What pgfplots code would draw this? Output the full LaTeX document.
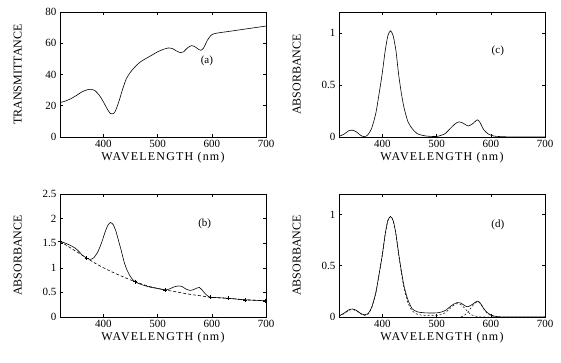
\documentclass[border=0pt]{standalone}
\usepackage{fontspec}
\setmainfont{Liberation Serif}
\newfontfamily\xlabfont{Liberation Serif}[LetterSpace=10]
\usepackage{pgfplots}
\pgfplotsset{compat=1.18}
\pgfplotsset{
  panel/.style={
    scale only axis, width=206pt,
    xmin=320, xmax=700,
    xtick={400,500,600,700},
    tick align=inside, major tick length=3pt,
    tick style={black, line width=0.5pt},
    axis line style={line width=0.6pt},
    /pgf/number format/assume math mode=true,
    tick label style={font=\fontsize{11}{12}\selectfont},
    label style={font=\fontsize{12}{13}\selectfont},
    xlabel={\xlabfont WAVELENGTH (nm)},
    xlabel style={at={(axis description cs:0.5,-0.165)}, anchor=center},
    ylabel style={at={(axis description cs:-0.205,0.5)}, anchor=center, rotate=0},
    every axis plot/.append style={black, line width=0.6pt},
    clip=true,
  }
}
\begin{document}
\begin{tikzpicture}
\useasboundingbox (0,0) rectangle (561pt,363pt);
% (a)
\begin{axis}[panel, at={(60pt,226pt)}, anchor=south west, height=125pt,
  ymin=0, ymax=80, ytick={0,20,40,60,80}, ylabel={TRANSMITTANCE}]
\addplot[smooth, tension=0.4] coordinates {
(320,22.0)(330,23.0)(340,24.5)(350,26.5)(360,28.8)(370,30.2)(378,30.5)(385,29.5)
(393,26.5)(400,22.5)(407,18.0)(413,15.0)(418,14.8)(422,16.5)(428,22)(435,30)
(442,37)(450,41.5)(460,45.5)(470,48.5)(480,50.5)(490,52.5)(500,54.5)(510,56)
(520,57.0)(528,56.5)(535,55)(542,54)(548,54.5)(555,57)(563,58.5)(570,57.5)
(576,56)(580,55.5)(585,57)(592,62)(600,65.5)(610,66.5)(630,67.5)(650,68.5)
(670,69.5)(700,71)};
\node[font=\fontsize{11}{12}\selectfont] at (axis cs:591,49) {(a)};
\end{axis}
% (c)
\begin{axis}[panel, at={(339pt,226pt)}, anchor=south west, height=125pt,
  ymin=0, ymax=1.2, ytick={0,0.5,1}, ylabel={ABSORBANCE}]
\addplot[smooth, tension=0.4] coordinates {
(320,0.005)(330,0.03)(338,0.06)(345,0.065)(352,0.05)(360,0.015)(367,0.003)(373,0.02)
(380,0.08)(388,0.23)(395,0.45)(400,0.62)(405,0.82)(410,0.97)(415,1.02)(420,0.97)
(425,0.83)(430,0.6)(435,0.42)(440,0.28)(447,0.15)(455,0.08)(465,0.03)(480,0.01)
(500,0.005)(515,0.03)(525,0.08)(535,0.13)(542,0.145)(550,0.13)(558,0.105)(566,0.125)
(575,0.165)(580,0.14)(587,0.07)(595,0.03)(605,0.01)(620,0.003)(650,0)(700,0)};
\node[font=\fontsize{11}{12}\selectfont] at (axis cs:613,0.83) {(c)};
\end{axis}
% (b)
\begin{axis}[panel, at={(60pt,46pt)}, anchor=south west, height=123pt,
  ymin=0, ymax=2.5, ytick={0,0.5,1,1.5,2,2.5}, ylabel={ABSORBANCE}]
\addplot[smooth, tension=0.4] coordinates {
(320,1.54)(330,1.50)(340,1.45)(348,1.40)(355,1.33)(362,1.25)(369,1.20)(375,1.17)
(382,1.20)(390,1.33)(397,1.52)(403,1.72)(408,1.86)(413,1.92)(418,1.88)(423,1.75)
(428,1.55)(433,1.35)(438,1.13)(443,0.97)(450,0.82)(458,0.72)(470,0.66)(485,0.61)
(500,0.58)(514,0.55)(522,0.57)(530,0.61)(538,0.63)(545,0.62)(552,0.57)(560,0.54)
(567,0.56)(573,0.59)(577,0.60)(582,0.55)(588,0.47)(595,0.41)(600,0.40)(630,0.38)
(661,0.35)(700,0.33)};
\addplot[smooth, tension=0.4, dash pattern=on 3pt off 2pt] coordinates {
(320,1.54)(340,1.40)(369,1.20)(390,1.06)(415,0.92)(440,0.80)(458,0.72)(485,0.62)
(514,0.55)(540,0.50)(560,0.46)(580,0.43)(598,0.40)(630,0.38)(661,0.35)(700,0.33)};
\addplot[only marks, mark=+, mark size=2pt, mark options={line width=0.5pt}] coordinates {
(320,1.54)(369,1.20)(458,0.72)(514,0.55)(598,0.40)(630,0.38)(661,0.35)(698,0.33)};
\node[font=\fontsize{11}{12}\selectfont] at (axis cs:587,1.9) {(b)};
\end{axis}
% (d)
\begin{axis}[panel, at={(339pt,46pt)}, anchor=south west, height=123pt,
  ymin=0, ymax=1.2, ytick={0,0.5,1}, ylabel={ABSORBANCE}]
\addplot[smooth, tension=0.4] coordinates {
(320,0.01)(330,0.04)(338,0.07)(345,0.078)(352,0.065)(360,0.035)(367,0.022)(373,0.03)
(380,0.09)(388,0.24)(395,0.45)(400,0.61)(405,0.80)(410,0.94)(415,0.98)(420,0.94)
(425,0.81)(430,0.62)(435,0.45)(440,0.30)(447,0.17)(455,0.08)(465,0.05)(480,0.04)
(500,0.04)(510,0.05)(518,0.07)(527,0.11)(537,0.14)(545,0.135)(552,0.11)(558,0.10)
(565,0.12)(575,0.155)(580,0.14)(586,0.09)(592,0.05)(600,0.02)(610,0.005)(630,0)(700,0)};
\addplot[smooth, tension=0.4, dash pattern=on 2pt off 2pt, line width=0.5pt] coordinates {
(320,0.005)(330,0.035)(338,0.065)(345,0.072)(352,0.06)(360,0.03)(367,0.015)(373,0.025)
(380,0.085)(388,0.235)(395,0.45)(400,0.61)(405,0.80)(410,0.94)(415,0.98)(420,0.94)
(425,0.81)(430,0.61)(435,0.43)(440,0.28)(447,0.14)(455,0.06)(465,0.025)(480,0.015)
(500,0.015)(512,0.03)(520,0.06)(528,0.10)(537,0.13)(545,0.12)(552,0.085)(558,0.05)
(565,0.02)(575,0.005)(590,0)(700,0)};
\addplot[smooth, tension=0.4, dash pattern=on 2pt off 2pt, line width=0.5pt] coordinates {
(545,0.0)(552,0.02)(558,0.05)(565,0.10)(572,0.14)(576,0.15)(581,0.13)(587,0.08)
(593,0.04)(600,0.015)(610,0.003)};
\node[font=\fontsize{11}{12}\selectfont] at (axis cs:613,0.90) {(d)};
\end{axis}
\end{tikzpicture}
\end{document}
